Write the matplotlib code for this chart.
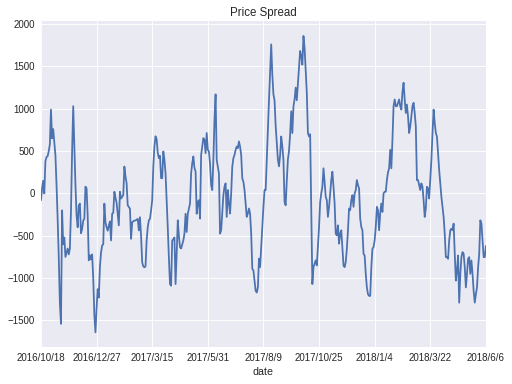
'''Price spread line chart'''

import pandas as pd
import matplotlib
matplotlib.use('Agg')
import matplotlib.pyplot as plt

plt.style.use('seaborn-v0_8')
plt.rcParams['font.family'] = ['Liberation Sans', 'DejaVu Sans']
plt.rcParams['xtick.labelsize'] = 11
plt.rcParams['ytick.labelsize'] = 11
plt.rcParams['axes.labelsize'] = 12
plt.rcParams['axes.titlesize'] = 13

# trading days (exchange holidays removed)
start, end = '2016-10-18', '2018-06-06'
holidays = ['2017-01-02', '2017-01-27', '2017-01-30', '2017-01-31', '2017-02-01',
            '2017-02-02', '2017-04-03', '2017-04-04', '2017-05-01', '2017-05-29',
            '2017-05-30', '2017-10-02', '2017-10-03', '2017-10-04', '2017-10-05',
            '2017-10-06', '2018-01-01', '2018-02-15', '2018-02-16', '2018-02-19',
            '2018-02-20', '2018-02-21', '2018-04-05', '2018-04-06', '2018-04-30',
            '2018-05-01']

spread = [
    -80, 60, 150, 0, 380, 430, 440, 500, 580, 990,
    650, 760, 600, 450, 100, -300, -750, -1300, -1540, -200,
    -600, -520, -750, -700, -650, -720, -650, -200, 500, 1030,
    550, 100, -260, -400, -140, -120, -470, -420, -320, -300,
    80, 60, -260, -790, -730, -780, -720, -1000, -1440, -1640,
    -1360, -1130, -1230, -870, -700, -615, -600, -120, -340, -400,
    -440, -380, -330, -555, -240, -230, 20, -50, -110, -250,
    -377, 20, -60, -40, -20, 318, 200, 120, -140, -160,
    -180, -536, -340, -330, -320, -320, -310, -300, -437, -280,
    -500, -814, -860, -873, -860, -556, -400, -318, -300, -200,
    -80, 318, 555, 675, 640, 480, 417, 445, 180, 180,
    496, 400, 240, -80, -400, -755, -1070, -1090, -556, -540,
    -520, -1070, -720, -318, -500, -635, -650, -600, -555, -475,
    -240, -455, -240, -180, -120, 238, 357, 437, 300, 260,
    -240, -100, -80, -297, 455, 554, 653, 634, 475, 713,
    515, 495, 350, 100, 40, 396, 870, 1170, 396, 317,
    237, -475, -435, -237, -20, 79, 119, -277, 40, -119,
    -237, 0, 317, 416, 455, 515, 554, 535, 614, 554,
    455, 178, 138, 40, -119, -277, -237, -178, -237, -475,
    -890, -910, -1030, -1150, -1170, -1110, -770, -870, -633, -396,
    -158, 40, 40, 396, 752, 1100, 1425, 1760, 1400, 1170,
    1100, 800, 600, 400, 320, 450, 673, 555, 396, -100,
    -140, 150, 400, 500, 700, 970, 713, 1030, 1110, 1250,
    1100, 1300, 1500, 1683, 1620, 1520, 1860, 1720, 1465, 1190,
    713, 673, 700, -200, -1070, -870, -830, -790, -850, -633,
    -400, -100, 0, 79, 297, 139, -40, -79, -277, -158,
    0, 158, 257, 79, -119, -475, -495, -376, -594, -475,
    -435, -633, -850, -870, -810, -653, -435, -178, -198, -79,
    -20, -158, 0, 40, 158, 99, 59, -297, -396, -435,
    -713, -733, -950, -1110, -1190, -1210, -1210, -870, -653, -633,
    -554, -396, -158, -198, -435, -237, -119, -218, 0, 20,
    20, 158, 250, 297, 515, 297, 634, 1030, 1110, 1030,
    1030, 1070, 1110, 1030, 990, 1200, 1307, 1110, 950, 1050,
    910, 713, 792, 910, 1030, 1070, 950, 792, 158, 158,
    99, 40, 119, 79, -79, -277, -178, 79, 59, -59,
    158, 396, 713, 990, 832, 713, 673, 475, 277, 119,
    -40, -158, -277, -475, -752, -752, -772, -554, -435, -416,
    -435, -356, -713, -1030, -910, -733, -1290, -950, -752, -693,
    -713, -870, -1110, -950, -772, -752, -950, -792, -950, -1150,
    -1290, -1190, -1110, -870, -713, -317, -356, -554, -752, -752,
    -620,
]

days = pd.bdate_range(start, end, freq='C', holidays=holidays)
labels = ['{}/{}/{}'.format(d.year, d.month, d.day) for d in days]
s = pd.Series(spread, index=pd.Index(labels, name='date'))

fig = plt.figure(figsize=(8, 6), dpi=64)
ax = fig.add_subplot(111)
s.plot(ax=ax, title='Price Spread', linewidth=2)
ax.set_xlim(0, len(s) - 1)
fig.subplots_adjust(left=0.080, right=0.949, top=0.945, bottom=0.096)
plt.savefig('out.png', dpi=64)
